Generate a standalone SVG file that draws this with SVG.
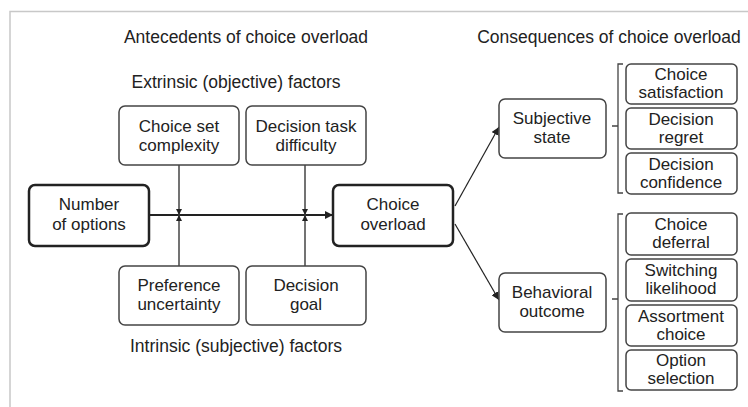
<svg xmlns="http://www.w3.org/2000/svg" width="748" height="407" viewBox="0 0 748 407">
<defs>
<marker id="ah" viewBox="0 0 10 10" refX="10" refY="5" markerWidth="8" markerHeight="8" markerUnits="userSpaceOnUse" orient="auto">
<path d="M0,0 L10,5 L0,10 z" fill="#222"/>
</marker>
<marker id="ahs" viewBox="0 0 10 10" refX="10" refY="5" markerWidth="6" markerHeight="7" markerUnits="userSpaceOnUse" orient="auto">
<path d="M0,0 L10,5 L0,10 z" fill="#222"/>
</marker>
</defs>
<style>
text{font-family:"Liberation Sans",Arial,sans-serif;font-size:17px;fill:#222;text-anchor:middle}
.hd{font-size:17.5px}
.box{fill:#fff;stroke:#444;stroke-width:1.5}
.tbox{fill:#fff;stroke:#222;stroke-width:2.5}
.ln{stroke:#444;stroke-width:1.5;fill:none}
.br{stroke:#444;stroke-width:1.3;fill:none}
</style>
<rect width="748" height="407" fill="#fff"/>
<path d="M10,407 V11.5 H748" fill="none" stroke="#c8c8c8" stroke-width="1.5"/>
<text class="hd" x="246" y="43">Antecedents of choice overload</text>
<text class="hd" x="236" y="88">Extrinsic (objective) factors</text>
<text class="hd" x="236" y="352">Intrinsic (subjective) factors</text>
<text class="hd" x="609" y="43">Consequences of choice overload</text>
<g id="connectors">
<line class="ln" x1="149" y1="215" x2="333" y2="215" style="stroke:#222;stroke-width:2" marker-end="url(#ah)"/>
<line class="ln" x1="179" y1="165" x2="179" y2="215" marker-end="url(#ahs)"/>
<line class="ln" x1="179" y1="266" x2="179" y2="215" marker-end="url(#ahs)"/>
<line class="ln" x1="305" y1="165" x2="305" y2="215" marker-end="url(#ahs)"/>
<line class="ln" x1="305" y1="266" x2="305" y2="215" marker-end="url(#ahs)"/>
<line class="ln" x1="455" y1="206" x2="499" y2="127" style="stroke:#222;stroke-width:1.2" marker-end="url(#ah)"/>
<line class="ln" x1="455" y1="224" x2="499" y2="300" style="stroke:#222;stroke-width:1.2" marker-end="url(#ah)"/>
<path class="br" d="M623,64 H618 V126 H612 M618,126 V193 H623"/>
<path class="br" d="M623,214 H618 V299 H612 M618,299 V391 H623"/>
</g>
<g id="n-number"><rect class="tbox" x="29" y="185" width="120" height="61" rx="6"/><text x="89" y="210">Number</text><text x="89" y="230">of options</text></g>
<g id="n-overload"><rect class="tbox" x="333" y="185" width="120" height="61" rx="6"/><text x="393" y="210">Choice</text><text x="393" y="230">overload</text></g>
<g id="n-complexity"><rect class="box" x="119" y="106" width="120" height="59" rx="6"/><text x="179" y="132">Choice set</text><text x="179" y="151">complexity</text></g>
<g id="n-difficulty"><rect class="box" x="246" y="106" width="120" height="59" rx="6"/><text x="306" y="132">Decision task</text><text x="306" y="151">difficulty</text></g>
<g id="n-uncertainty"><rect class="box" x="119" y="266" width="120" height="59" rx="6"/><text x="179" y="291">Preference</text><text x="179" y="310">uncertainty</text></g>
<g id="n-goal"><rect class="box" x="246" y="266" width="120" height="59" rx="6"/><text x="306" y="291">Decision</text><text x="306" y="310">goal</text></g>
<g id="n-subjective"><rect class="box" x="499" y="99" width="107" height="59" rx="6"/><text x="552" y="124">Subjective</text><text x="552" y="143">state</text></g>
<g id="n-behavioral"><rect class="box" x="499" y="273" width="107" height="59" rx="6"/><text x="552" y="298">Behavioral</text><text x="552" y="317">outcome</text></g>
<g id="n-satisfaction"><rect class="box" x="626" y="64" width="111" height="40" rx="5"/><text x="681" y="80">Choice</text><text x="681" y="98">satisfaction</text></g>
<g id="n-regret"><rect class="box" x="626" y="108" width="111" height="41" rx="5"/><text x="681" y="125">Decision</text><text x="681" y="143">regret</text></g>
<g id="n-confidence"><rect class="box" x="626" y="153" width="111" height="41" rx="5"/><text x="681" y="170">Decision</text><text x="681" y="188">confidence</text></g>
<g id="n-deferral"><rect class="box" x="626" y="213" width="111" height="42" rx="5"/><text x="681" y="230">Choice</text><text x="681" y="248">deferral</text></g>
<g id="n-switching"><rect class="box" x="626" y="259" width="111" height="42" rx="5"/><text x="681" y="276">Switching</text><text x="681" y="294">likelihood</text></g>
<g id="n-assortment"><rect class="box" x="626" y="305" width="111" height="41" rx="5"/><text x="681" y="322">Assortment</text><text x="681" y="340">choice</text></g>
<g id="n-option"><rect class="box" x="626" y="350" width="111" height="40" rx="5"/><text x="681" y="366">Option</text><text x="681" y="384">selection</text></g>
</svg>
